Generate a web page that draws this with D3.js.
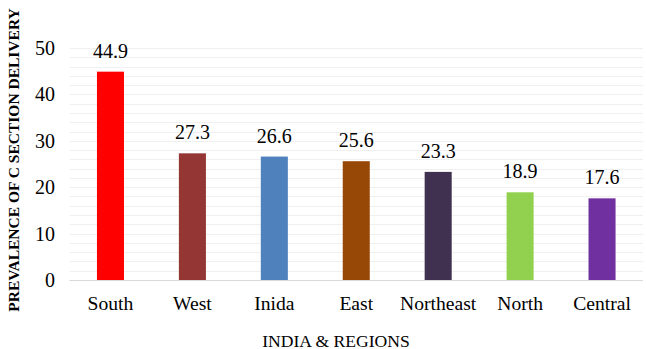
<!DOCTYPE html>
<head>
  <meta charset="utf-8">
  <script src="https://d3js.org/d3.v7.min.js"></script>
  <style>
    body { margin:0; background:#fff; }
    svg text { font-family: "Liberation Serif", "Times New Roman", Times, serif; }
  </style>
</head>
<body>
  <svg id="chart" width="646" height="349"></svg>
  <script>
    // data
    const regions = ["South", "West", "Inida", "East", "Northeast", "North", "Central"];
    const prevalence = [44.9, 27.3, 26.6, 25.6, 23.3, 18.9, 17.6];
    const barColors = ["#ff0000", "#943634", "#4f81bd", "#974806", "#403151", "#92d050", "#7030a0"];
    const yTicks = [0, 10, 20, 30, 40, 50];

    const svg = d3.select("#chart");
    const margin = {top: 48, right: 3, bottom: 69, left: 69.5};
    const width = 646, height = 349;

    const x = d3.scaleBand()
      .domain(regions)
      .range([margin.left, width - margin.right])
      .paddingInner(0.67)
      .paddingOuter(0.335);

    const y = d3.scaleLinear()
      .domain([0, 50])
      .range([height - margin.bottom, margin.top]);

    // light gridlines every 2 units
    svg.append("g")
      .selectAll("line")
      .data(d3.range(2, 51, 2))
      .join("line")
      .attr("x1", margin.left)
      .attr("x2", width - margin.right)
      .attr("y1", d => Math.round(y(d)) + 0.5)
      .attr("y2", d => Math.round(y(d)) + 0.5)
      .attr("stroke", "#f0f0f0");

    // baseline
    svg.append("line")
      .attr("x1", margin.left)
      .attr("x2", width - margin.right)
      .attr("y1", Math.round(y(0)) + 0.5)
      .attr("y2", Math.round(y(0)) + 0.5)
      .attr("stroke", "#d9d9d9");

    // y axis labels
    const yAxis = svg.append("g")
      .attr("transform", `translate(${margin.left - 14.5},0)`)
      .call(d3.axisLeft(y).tickValues(yTicks).tickSize(0).tickPadding(0));
    yAxis.select(".domain").remove();
    yAxis.attr("font-family", null);
    yAxis.selectAll("text")
      .style("font-size", "20px")
      .attr("fill", "#000");

    // x axis labels
    const xAxis = svg.append("g")
      .attr("transform", `translate(0,${y(0)})`)
      .call(d3.axisBottom(x).tickSize(0).tickPadding(16.5));
    xAxis.select(".domain").remove();
    xAxis.attr("font-family", null);
    xAxis.selectAll("text")
      .style("font-size", "19.6px")
      .attr("fill", "#000");

    const rows = regions.map((r, i) => ({region: r, value: prevalence[i], color: barColors[i]}));

    svg.append("g")
      .selectAll("rect")
      .data(rows)
      .join("rect")
      .attr("x", d => x(d.region))
      .attr("y", d => y(d.value))
      .attr("width", x.bandwidth())
      .attr("height", d => y(0) - y(d.value))
      .attr("fill", d => d.color);

    svg.append("g")
      .selectAll("text")
      .data(rows)
      .join("text")
      .attr("x", d => x(d.region) + x.bandwidth() / 2)
      .attr("y", d => y(d.value) - 14)
      .attr("text-anchor", "middle")
      .style("font-size", "20px")
      .text(d => d.value.toFixed(1));

    // axis titles
    svg.append("text")
      .attr("x", 336)
      .attr("y", 346.5)
      .attr("text-anchor", "middle")
      .style("font-size", "17.6px")
      .text("INDIA & REGIONS");

    svg.append("text")
      .attr("transform", "translate(19,160) rotate(-90)")
      .attr("text-anchor", "middle")
      .style("font-size", "15.5px")
      .style("font-weight", "bold")
      .text("PREVALENCE OF C SECTION DELIVERY");
  </script>
</body>
